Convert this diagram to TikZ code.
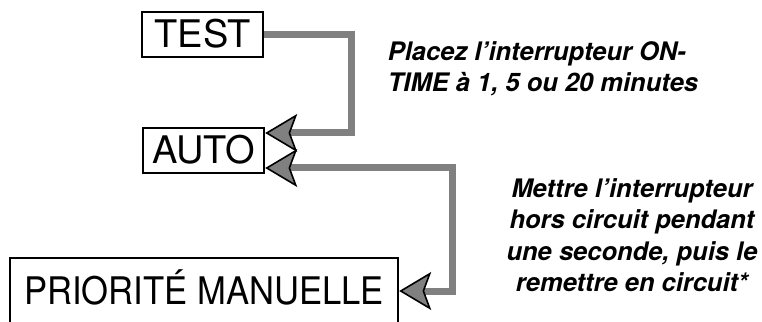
\documentclass[tikz,border=0pt]{standalone}
\definecolor{wiregray}{RGB}{128, 128, 128}
\usepackage{fontspec}
\setmainfont{TeX Gyre Heros}
\usepackage{graphicx}
\usepackage{tikz}
\usetikzlibrary{arrows.meta, positioning}

\begin{document}
\begin{tikzpicture}[x=1pt, y=1pt,
    modebox/.style={draw=black, line width=2.4pt, inner sep=0pt, minimum height=45pt,
      text height=27pt, text depth=0pt, font=\fontsize{38}{40}\selectfont},
    note/.style={inner sep=0pt, font=\fontsize{25.5}{31.5}\selectfont\bfseries\itshape},
    link/.style={draw=wiregray, line width=7pt,
      >={Stealth[length=32pt, width=38pt, inset=7pt, line width=1.6pt, color=black, fill=wiregray]}}]
  \useasboundingbox (0,0) rectangle (762,321);
  % switch positions
  \node[modebox, minimum width=121pt] (test) at (202.5,286.5) {TEST};
  \node[modebox, minimum width=121pt] (auto) at (203.5,170.5) {AUTO};
  \node[modebox, minimum width=388pt, minimum height=66pt] (prio) at (204,30)
    {\scalebox{0.91}[1]{PRIORITÉ MANUELLE}};
  % instructions
  \node[note, align=left] (ontime) at (543,252) {Placez l'interrupteur ON-\\TIME à 1, 5 ou 20 minutes};
  \node[note, align=center] (reset) at (632,86) {Mettre l'interrupteur\\hors circuit pendant\\une seconde, puis le\\remettre en circuit*};
  % transitions
  \draw[link, ->] (test.east) -- ++(87,0) |- ([yshift=17.5pt]auto.east);
  \draw[link, <->] ([yshift=-17.5pt]auto.east) -- ++(187,0) |- (prio.east);
\end{tikzpicture}
\end{document}
